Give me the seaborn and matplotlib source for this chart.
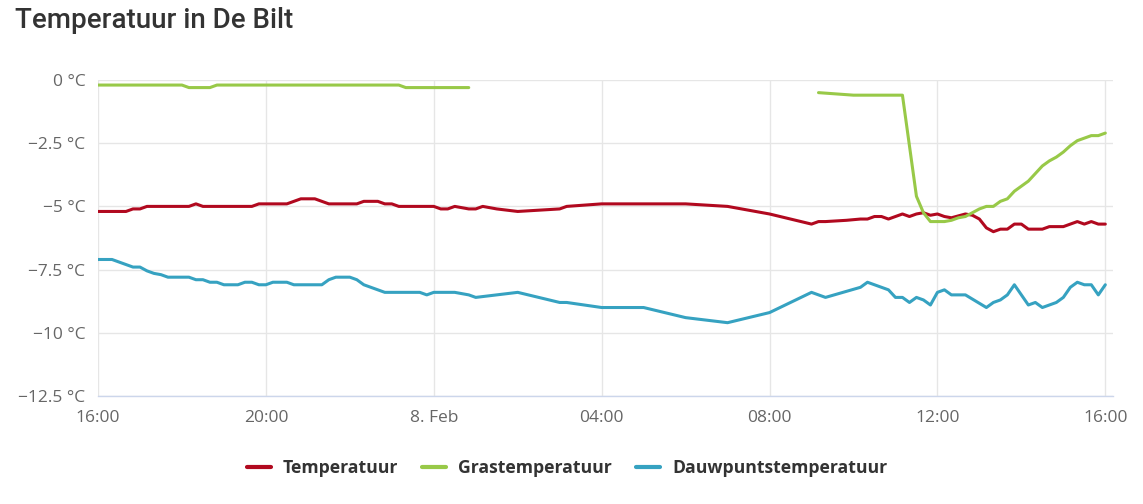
import matplotlib
matplotlib.use("Agg")
import matplotlib.pyplot as plt
import matplotlib.dates as mdates
from matplotlib.lines import Line2D
import seaborn as sns
import pandas as pd
import numpy as np

temp_tijd = ["07 16:00", "07 16:40", "07 16:50", "07 17:00", "07 17:10", "07 18:10", "07 18:20",
             "07 18:30", "07 19:40", "07 19:50", "07 20:30", "07 20:50", "07 21:10", "07 21:30",
             "07 22:10", "07 22:20", "07 22:40", "07 22:50", "07 23:00", "07 23:10", "08 00:00",
             "08 00:10", "08 00:20", "08 00:30", "08 00:40", "08 00:50", "08 01:00", "08 01:10",
             "08 01:30", "08 02:00", "08 03:00", "08 03:10", "08 04:00", "08 06:00", "08 07:00",
             "08 08:00", "08 09:00", "08 09:10", "08 09:20", "08 09:50", "08 10:10", "08 10:20",
             "08 10:30", "08 10:40", "08 10:50", "08 11:00", "08 11:10", "08 11:20", "08 11:30",
             "08 11:40", "08 11:50", "08 12:00", "08 12:10", "08 12:20", "08 12:40", "08 12:50",
             "08 13:00", "08 13:10", "08 13:20", "08 13:30", "08 13:40", "08 13:50", "08 14:00",
             "08 14:10", "08 14:20", "08 14:30", "08 14:40", "08 14:50", "08 15:00", "08 15:10",
             "08 15:20", "08 15:30", "08 15:40", "08 15:50", "08 16:00"]
temp_waarde = [-5.2, -5.2, -5.1, -5.1, -5.0, -5.0, -4.9,
               -5.0, -5.0, -4.9, -4.9, -4.7, -4.7, -4.9,
               -4.9, -4.8, -4.8, -4.9, -4.9, -5.0, -5.0,
               -5.1, -5.1, -5.0, -5.05, -5.1, -5.1, -5.0,
               -5.1, -5.2, -5.1, -5.0, -4.9, -4.9, -5.0,
               -5.3, -5.7, -5.6, -5.6, -5.55, -5.5, -5.5,
               -5.4, -5.4, -5.5, -5.4, -5.3, -5.4, -5.3,
               -5.25, -5.35, -5.3, -5.4, -5.45, -5.3, -5.35,
               -5.5, -5.85, -6.0, -5.9, -5.9, -5.7, -5.7,
               -5.9, -5.9, -5.9, -5.8, -5.8, -5.8, -5.7,
               -5.6, -5.7, -5.6, -5.7, -5.7]

gras_tijd = ["07 16:00", "07 18:00", "07 18:10", "07 18:40", "07 18:50", "07 23:10", "07 23:20",
             "08 00:50", "08 09:10", "08 10:00", "08 11:10", "08 11:30", "08 11:40", "08 11:50",
             "08 12:10", "08 12:20", "08 12:30", "08 12:40", "08 12:50", "08 13:00", "08 13:10",
             "08 13:20", "08 13:30", "08 13:40", "08 13:50", "08 14:00", "08 14:10", "08 14:20",
             "08 14:30", "08 14:40", "08 14:50", "08 15:00", "08 15:10", "08 15:20", "08 15:30",
             "08 15:40", "08 15:50", "08 16:00"]
gras_waarde = [-0.2, -0.2, -0.3, -0.3, -0.2, -0.2, -0.3,
               -0.3, -0.5, -0.6, -0.6, -4.6, -5.25, -5.6,
               -5.6, -5.55, -5.45, -5.4, -5.25, -5.1, -5.0,
               -5.0, -4.8, -4.7, -4.4, -4.2, -4.0, -3.7,
               -3.4, -3.2, -3.05, -2.85, -2.6, -2.4, -2.3,
               -2.2, -2.2, -2.1]
# geen grasmeting tussen 00:50 en 09:10
gras_deel = [0] * 8 + [1] * 30

dauw_tijd = ["07 16:00", "07 16:20", "07 16:30", "07 16:40", "07 16:50", "07 17:00", "07 17:10",
             "07 17:20", "07 17:30", "07 17:40", "07 18:10", "07 18:20", "07 18:30", "07 18:40",
             "07 18:50", "07 19:00", "07 19:20", "07 19:30", "07 19:40", "07 19:50", "07 20:00",
             "07 20:10", "07 20:30", "07 20:40", "07 21:20", "07 21:30", "07 21:40", "07 22:00",
             "07 22:10", "07 22:20", "07 22:30", "07 22:40", "07 22:50", "07 23:40", "07 23:50",
             "08 00:00", "08 00:30", "08 00:40", "08 00:50", "08 01:00", "08 02:00", "08 03:00",
             "08 03:10", "08 04:00", "08 05:00", "08 06:00", "08 07:00", "08 08:00", "08 09:00",
             "08 09:20", "08 10:10", "08 10:20", "08 10:50", "08 11:00", "08 11:10", "08 11:20",
             "08 11:30", "08 11:40", "08 11:50", "08 12:00", "08 12:10", "08 12:20", "08 12:40",
             "08 13:10", "08 13:20", "08 13:30", "08 13:40", "08 13:50", "08 14:10", "08 14:20",
             "08 14:30", "08 14:50", "08 15:00", "08 15:10", "08 15:20", "08 15:30", "08 15:40",
             "08 15:50", "08 16:00"]
dauw_waarde = [-7.1, -7.1, -7.2, -7.3, -7.4, -7.4, -7.55,
               -7.65, -7.7, -7.8, -7.8, -7.9, -7.9, -8.0,
               -8.0, -8.1, -8.1, -8.0, -8.0, -8.1, -8.1,
               -8.0, -8.0, -8.1, -8.1, -7.9, -7.8, -7.8,
               -7.9, -8.1, -8.2, -8.3, -8.4, -8.4, -8.5,
               -8.4, -8.4, -8.45, -8.5, -8.6, -8.4, -8.8,
               -8.8, -9.0, -9.0, -9.4, -9.6, -9.2, -8.4,
               -8.6, -8.2, -8.0, -8.3, -8.6, -8.6, -8.8,
               -8.6, -8.7, -8.9, -8.4, -8.3, -8.5, -8.5,
               -9.0, -8.8, -8.7, -8.5, -8.1, -8.9, -8.8,
               -9.0, -8.8, -8.6, -8.2, -8.0, -8.1, -8.1,
               -8.5, -8.1]

reeksen = ["Temperatuur", "Grastemperatuur", "Dauwpuntstemperatuur"]
kleuren = {"Temperatuur": "#b1091f", "Grastemperatuur": "#98c948", "Dauwpuntstemperatuur": "#36a2c1"}

y_ticks = [0, -2.5, -5, -7.5, -10, -12.5]


def naar_tijd(lijst):
    return pd.to_datetime(["2021-02-" + t for t in lijst], format="%Y-%m-%d %H:%M")


df = pd.concat([
    pd.DataFrame({"tijd": naar_tijd(temp_tijd), "waarde": temp_waarde,
                  "reeks": "Temperatuur", "deel": 0}),
    pd.DataFrame({"tijd": naar_tijd(gras_tijd), "waarde": gras_waarde,
                  "reeks": "Grastemperatuur", "deel": gras_deel}),
    pd.DataFrame({"tijd": naar_tijd(dauw_tijd), "waarde": dauw_waarde,
                  "reeks": "Dauwpuntstemperatuur", "deel": 0}),
], ignore_index=True)
df["eenheid"] = df["reeks"] + df["deel"].astype(str)

sns.set_style("white")
plt.rcParams["font.family"] = ["Open Sans", "DejaVu Sans"]

fig = plt.figure(figsize=(11.43, 5.04), dpi=100)
ax = fig.add_axes([98 / 1143, 1 - 396 / 504, (1113 - 98) / 1143, (396 - 80) / 504])

sns.lineplot(data=df, x="tijd", y="waarde", hue="reeks", hue_order=reeksen,
             units="eenheid", estimator=None, palette=kleuren, linewidth=2.2,
             legend=False, ax=ax)

start = pd.Timestamp("2021-02-07 16:00")
ax.set_xlim(start, pd.Timestamp("2021-02-08 16:11"))
ax.set_ylim(-12.5, 0)
ax.set_yticks(y_ticks)
ax.set_yticklabels([(f"{v:g} °C").replace("-", "\u2212") for v in y_ticks])

ax.set_xticks(pd.date_range(start, periods=7, freq="4h"))


def tijd_label(x, pos):
    d = mdates.num2date(x)
    if d.hour == 0:
        return f"{d.day}. Feb"
    return d.strftime("%H:%M")


ax.xaxis.set_major_formatter(plt.FuncFormatter(tijd_label))
ax.set_xlabel("")
ax.set_ylabel("")

ax.grid(True, color="#e6e6e6", linewidth=1)
for s in ["top", "right", "left"]:
    ax.spines[s].set_visible(False)
ax.spines["bottom"].set_color("#ccd6eb")
ax.spines["bottom"].set_linewidth(1)
ax.tick_params(axis="y", length=0, pad=9, labelsize=12.5, labelcolor="#666666")
ax.tick_params(axis="x", length=7, width=1, color="#ccd6eb", pad=3,
               labelsize=12.5, labelcolor="#666666")

fig.text(15 / 1143, 1 - 21 / 504, "Temperatuur in De Bilt", fontsize=20,
         family=["Roboto", "DejaVu Sans"], fontweight="medium", color="#333333",
         va="center", ha="left")

handles = [Line2D([], [], color=kleuren[r], linewidth=3) for r in reeksen]
leg = fig.legend(handles, reeksen, loc="center", bbox_to_anchor=(0.496, 1 - 468 / 504),
                 ncol=3, frameon=False, handlelength=1.35, handletextpad=0.7,
                 columnspacing=1.35, prop={"size": 12.7, "weight": "bold"})
for t in leg.get_texts():
    t.set_color("#333333")

fig.savefig("out.png", dpi=100)
